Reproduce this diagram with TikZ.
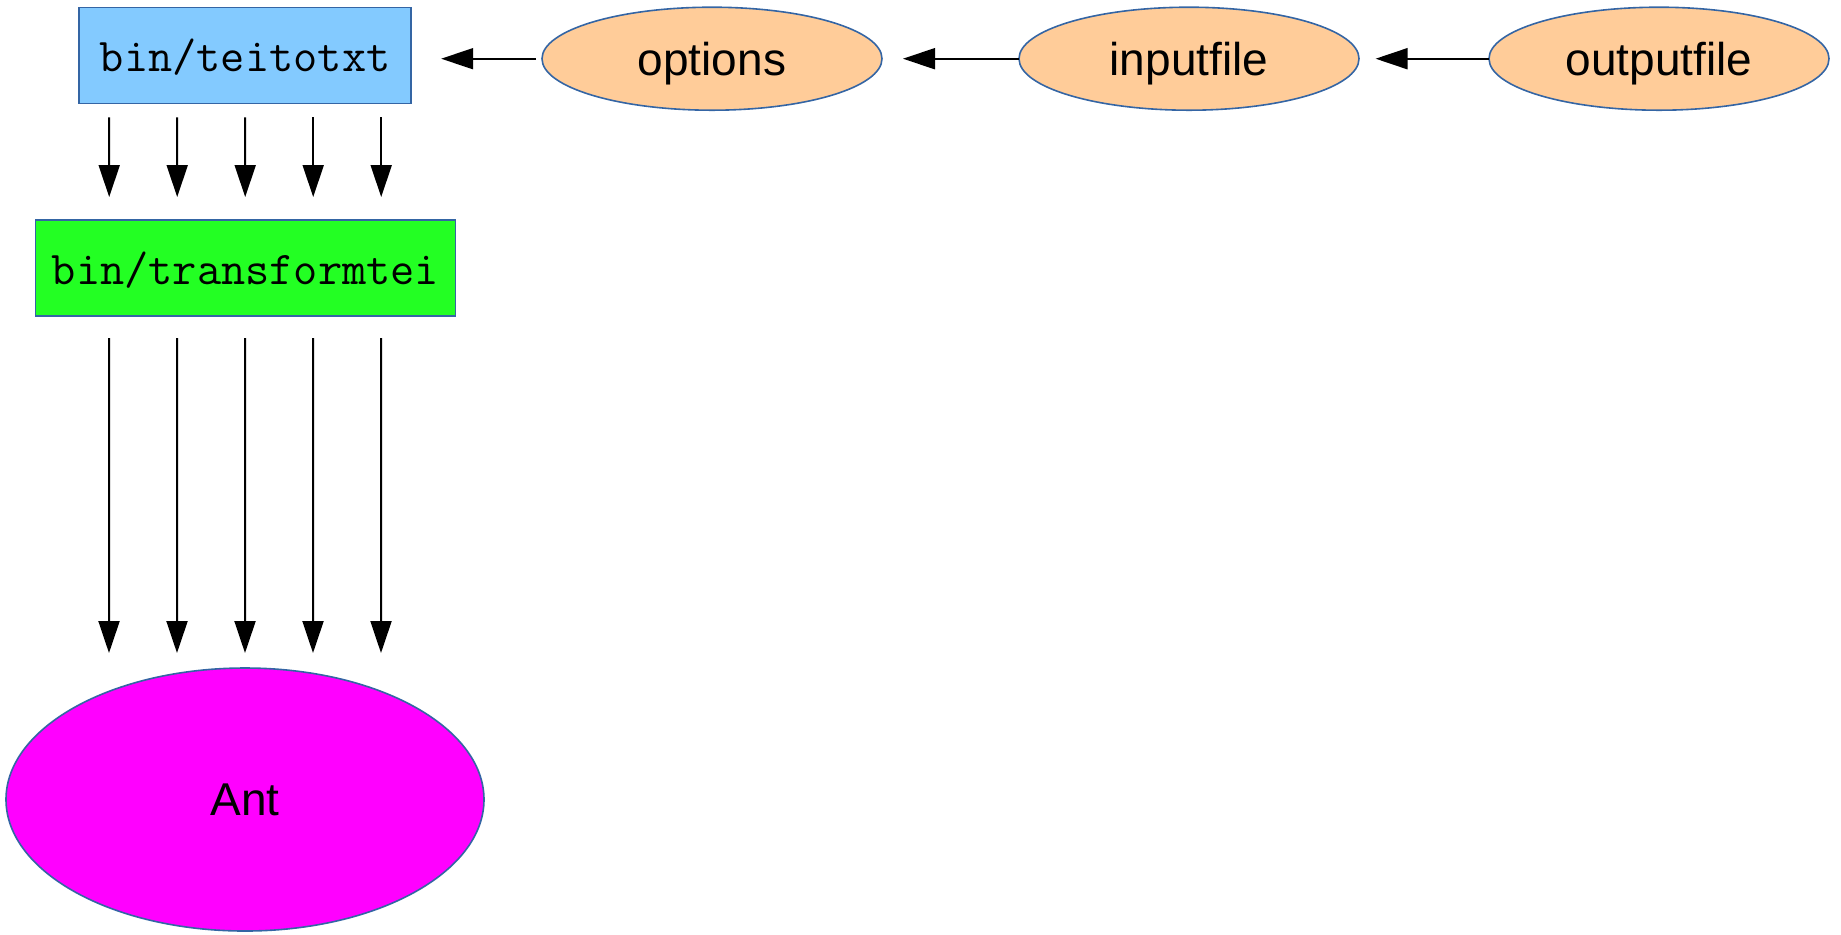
\documentclass[tikz,border=0pt]{standalone}
\usepackage{fontspec}
\newfontfamily\lsans{Liberation Sans}
\usetikzlibrary{shapes.geometric,arrows.meta,calc}
\definecolor{bluefill}{HTML}{83CAFF}
\definecolor{greenfill}{HTML}{23FF23}
\definecolor{orangefill}{HTML}{FFCC99}
\definecolor{magentafill}{HTML}{FF00FF}
\definecolor{edgeblue}{HTML}{3465A4}
\tikzset{
  boxnode/.style={draw=edgeblue, line width=0.8pt, rectangle, inner sep=0pt, outer sep=0pt,
    text depth=0pt, font=\fontsize{23.5pt}{27pt}\selectfont\ttfamily},
  ellnode/.style={draw=edgeblue, line width=0.8pt, ellipse, inner sep=0pt, outer sep=0pt,
    fill=orangefill, minimum width=170pt, minimum height=51.5pt, text depth=0pt,
    font=\fontsize{23pt}{27pt}\selectfont\lsans},
  arr/.style={line width=1pt, -{Triangle[length=16pt,width=10.5pt]}}
}
\begin{document}
\begin{tikzpicture}[x=0.5pt,y=-0.5pt]
\useasboundingbox (0,0) rectangle (1841,934);
\node[boxnode, fill=bluefill, minimum width=166pt, minimum height=48pt] (teitotxt) at (245.2,55.3) {bin/teitotxt};
\node[boxnode, fill=greenfill, minimum width=210pt, minimum height=48pt] (transformtei) at (245.5,268) {bin/transformtei};
\node[ellnode] (options) at (712,58.7) {options};
\node[ellnode] (inputfile) at (1189,58.7) {inputfile};
\node[ellnode] (outputfile) at (1659,58.7) {outputfile};
\node[ellnode, fill=magentafill, minimum width=239pt, minimum height=131.5pt] (ant) at (245,799.5) {Ant};
\foreach \dx in {-136,-68,0,68,136}{
  \draw[arr] ($(teitotxt.south)+(\dx,14)$) -- ($(transformtei.north)+(\dx-0.3,-23)$);
  \draw[arr] ($(transformtei.south)+(\dx-0.3,22)$) -- ($(ant.north)+(\dx,-15)$);
}
\draw[arr] ($(options.west)+(-6,0)$) -- ($(teitotxt.east)+(30,3.4)$);
\draw[arr] (inputfile.west) -- ($(options.east)+(21,0)$);
\draw[arr] (outputfile.west) -- ($(inputfile.east)+(16.6,0)$);
\end{tikzpicture}
\end{document}
